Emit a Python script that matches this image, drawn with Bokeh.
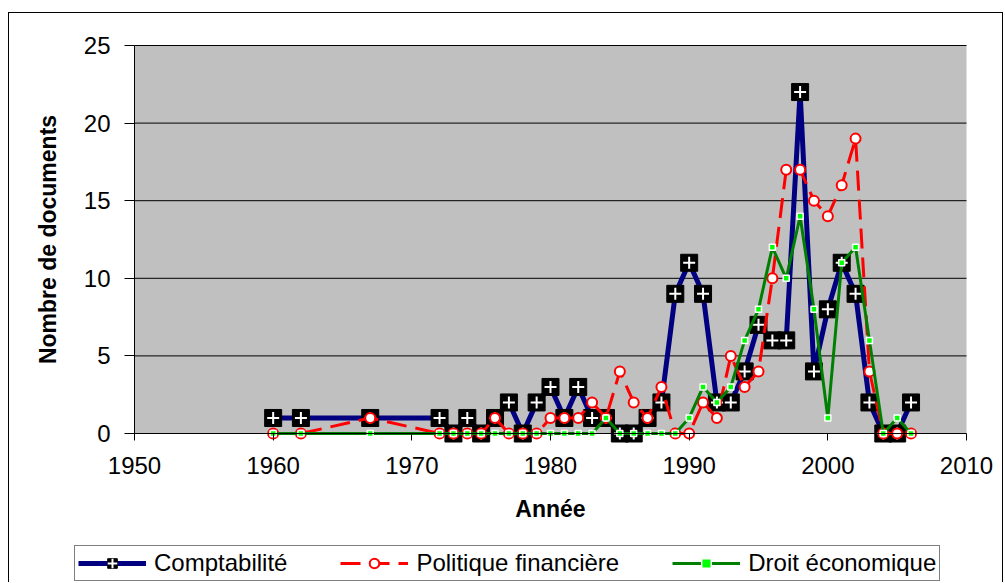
from bokeh.plotting import figure
from bokeh.models import (Range1d, FixedTicker, BoxAnnotation, Legend, LegendItem,
                          ColumnDataSource)
from bokeh.embed import file_html
from bokeh.resources import INLINE

# ---- data ----
years = [1960, 1962, 1967, 1972, 1973, 1974, 1975, 1976, 1977, 1978, 1979,
         1980, 1981, 1982, 1983, 1984, 1985, 1986, 1987, 1988, 1989,
         1990, 1991, 1992, 1993, 1994, 1995, 1996, 1997, 1998, 1999,
         2000, 2001, 2002, 2003, 2004, 2005, 2006]
comptabilite = [1, 1, 1, 1, 0, 1, 0, 1, 2, 0, 2,
                3, 1, 3, 1, 1, 0, 0, 1, 2, 9,
                11, 9, 2, 2, 4, 7, 6, 6, 22, 4,
                8, 11, 9, 2, 0, 0, 2]
politique = [0, 0, 1, 0, 0, 0, 0, 1, 0, 0, 0,
             1, 1, 1, 2, 1, 4, 2, 1, 3, 0,
             0, 2, 1, 5, 3, 4, 10, 17, 17, 15,
             14, 16, 19, 4, 0, 0, 0]
droit = [0, 0, 0, 0, 0, 0, 0, 0, 0, 0, 0,
         0, 0, 0, 0, 1, 0, 0, 0, 0, 0,
         1, 3, 2, 3, 6, 8, 12, 10, 14, 8,
         1, 11, 12, 6, 0, 1, 0]
series_names = ["Comptabilité", "Politique financière", "Droit économique"]
x_ticks = [1950, 1960, 1970, 1980, 1990, 2000, 2010]
y_ticks = [0, 5, 10, 15, 20, 25]

src = ColumnDataSource(dict(year=years, c=comptabilite, p=politique, d=droit))
grid_src = ColumnDataSource(dict(x0=[x_ticks[0]] * (len(y_ticks) - 1),
                                 x1=[x_ticks[-1]] * (len(y_ticks) - 1),
                                 y=y_ticks[1:]))

FONT = "Liberation Sans"

# The frame fills the whole canvas; the plot area (1950-2010 x 0-25) sits inside it
# so that axes, labels and legend are never clipped.
p = figure(width=995, height=570,
           x_range=Range1d(1940.986, 2012.740), y_range=Range1d(-9.665, 27.062),
           output_backend="svg", toolbar_location=None,
           min_border_left=0, min_border_right=0,
           min_border_top=0, min_border_bottom=0,
           background_fill_color="white", border_fill_color="white",
           outline_line_color=None)
p.margin = (12, 0, 0, 8)
p.styles = {"border": "1px solid black", "border-bottom": "none"}

# grey plot area
p.add_layout(BoxAnnotation(left=x_ticks[0], right=x_ticks[-1],
                           bottom=y_ticks[0], top=y_ticks[-1],
                           fill_color="#C0C0C0", fill_alpha=1.0, line_color=None,
                           level="image"))
p.xgrid.visible = False
p.ygrid.visible = False
p.segment(x0="x0", x1="x1", y0="y", y1="y", source=grid_src,
          line_color="black", line_width=1)

# axes
p.xaxis.fixed_location = 0
p.yaxis.fixed_location = 1950
p.xaxis.ticker = FixedTicker(ticks=x_ticks)
p.yaxis.ticker = FixedTicker(ticks=y_ticks)
p.xaxis.bounds = (1950, 2010)
p.yaxis.bounds = (0, 25)
for ax in (p.xaxis, p.yaxis):
    ax.axis_line_color = "black"
    ax.major_tick_line_color = "black"
    ax.minor_tick_line_color = None
    ax.major_tick_in = 0
    ax.major_label_text_font = FONT
    ax.major_label_text_font_size = "24px"
    ax.major_label_text_color = "black"
    ax.axis_label_text_font = FONT
    ax.axis_label_text_font_size = "23px"
    ax.axis_label_text_font_style = "bold"
    ax.axis_label_text_color = "black"
p.xaxis.major_tick_out = 7
p.yaxis.major_tick_out = 10
p.xaxis.major_label_standoff = 16
p.yaxis.major_label_standoff = 14
p.xaxis.axis_label = "Année"
p.yaxis.axis_label = "Nombre de documents"
p.xaxis.axis_label_standoff = 19
p.yaxis.axis_label_standoff = 20

# series
l1 = p.line("year", "c", source=src, line_color="#000080", line_width=5)
s1 = p.scatter("year", "c", source=src, marker="square", size=17,
               fill_color="black", line_color="black")
c1 = p.scatter("year", "c", source=src, marker="cross", size=12,
               line_color="white", line_width=2)
l2 = p.line("year", "p", source=src, line_color="#FF0000", line_width=3,
            line_dash="20 9")
s2 = p.scatter("year", "p", source=src, marker="circle", size=10,
               fill_color="white", line_color="#FF0000", line_width=2)
l3 = p.line("year", "d", source=src, line_color="#008000", line_width=3)
s3 = p.scatter("year", "d", source=src, marker="square", size=6,
               fill_color="#00FF00", line_color="white", line_width=1.5)

legend = Legend(items=[LegendItem(label=series_names[0], renderers=[l1, s1, c1]),
                       LegendItem(label=series_names[1], renderers=[l2, s2]),
                       LegendItem(label=series_names[2], renderers=[l3, s3])],
                location=(65, 2), orientation="horizontal",
                glyph_width=68, glyph_height=24, label_standoff=8, spacing=53,
                padding=3, margin=0,
                border_line_color="black", border_line_width=1,
                background_fill_color="white", background_fill_alpha=1.0,
                label_text_font=FONT, label_text_font_size="24px",
                label_text_color="black")
p.add_layout(legend, "center")

open("out.html", "w").write(file_html(p, INLINE))
